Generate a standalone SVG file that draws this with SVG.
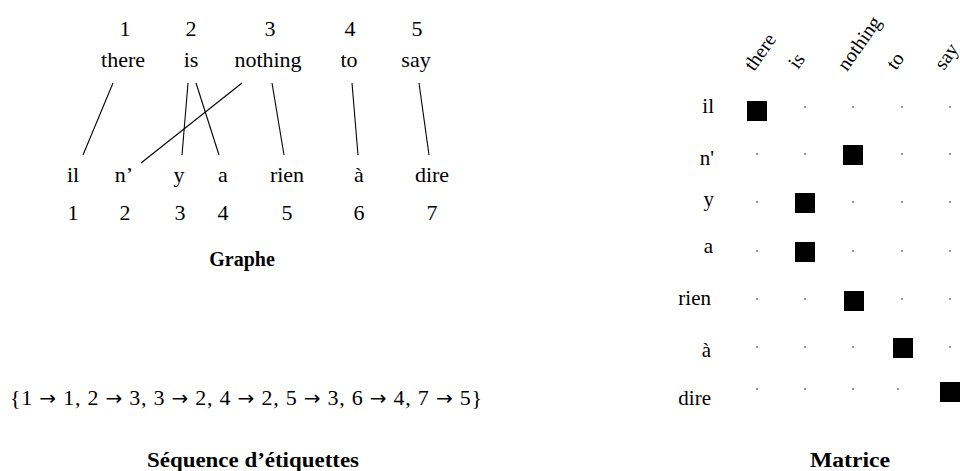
<svg xmlns="http://www.w3.org/2000/svg" width="960" height="471" viewBox="0 0 960 471">
<style>
  text { font-family: "Liberation Serif", "DejaVu Serif", serif; fill: #000; }
  .w { font-size: 22px; text-anchor: middle; }
  .t { font-size: 20px; font-weight: bold; text-anchor: middle; }
  .rl { font-size: 21px; text-anchor: end; }
  .cl { font-size: 20px; }
  .ar { font-family: "DejaVu Sans", sans-serif; font-size: 20px; }
  .ln { stroke: #000; stroke-width: 1.1; fill: none; }
  .sq { fill: #000; }
  .dt { fill: #666; }
</style>
<rect width="960" height="471" fill="#fff"/>

<!-- Graphe -->
<g id="src-there"><text class="w" x="125" y="36">1</text><text class="w" x="123" y="67">there</text></g>
<g id="src-is"><text class="w" x="191" y="36">2</text><text class="w" x="191" y="67">is</text></g>
<g id="src-nothing"><text class="w" x="270" y="36">3</text><text class="w" x="268" y="67">nothing</text></g>
<g id="src-to"><text class="w" x="350" y="36">4</text><text class="w" x="349" y="67">to</text></g>
<g id="src-say"><text class="w" x="417" y="36">5</text><text class="w" x="416" y="67">say</text></g>

<g id="tgt-il"><text class="w" x="73" y="182">il</text><text class="w" x="73" y="220">1</text></g>
<g id="tgt-n"><text class="w" x="124" y="182">n’</text><text class="w" x="125" y="220">2</text></g>
<g id="tgt-y"><text class="w" x="179" y="182">y</text><text class="w" x="180" y="220">3</text></g>
<g id="tgt-a"><text class="w" x="223" y="182">a</text><text class="w" x="223" y="220">4</text></g>
<g id="tgt-rien"><text class="w" x="287" y="182">rien</text><text class="w" x="287" y="220">5</text></g>
<g id="tgt-a2"><text class="w" x="359" y="182">à</text><text class="w" x="359" y="220">6</text></g>
<g id="tgt-dire"><text class="w" x="432" y="182">dire</text><text class="w" x="432" y="220">7</text></g>

<g id="connectors">
  <line class="ln" x1="113" y1="83" x2="83" y2="155"/>
  <line class="ln" x1="188" y1="83" x2="182" y2="155"/>
  <line class="ln" x1="196" y1="83" x2="219" y2="155"/>
  <line class="ln" x1="242" y1="83" x2="141" y2="163"/>
  <line class="ln" x1="272" y1="83" x2="284" y2="155"/>
  <line class="ln" x1="352" y1="83" x2="358" y2="155"/>
  <line class="ln" x1="419" y1="83" x2="429" y2="155"/>
</g>

<text class="t" x="242" y="266">Graphe</text>

<!-- Séquence -->
<g id="sequence">
  <text x="10" y="405" font-size="22" textLength="472" lengthAdjust="spacing">{1 <tspan class="ar">→</tspan> 1, 2 <tspan class="ar">→</tspan> 3, 3 <tspan class="ar">→</tspan> 2, 4 <tspan class="ar">→</tspan> 2, 5 <tspan class="ar">→</tspan> 3, 6 <tspan class="ar">→</tspan> 4, 7 <tspan class="ar">→</tspan> 5}</text>
</g>
<text class="t" x="253" y="467" textLength="212" lengthAdjust="spacingAndGlyphs">Séquence d’étiquettes</text>

<!-- Matrice -->
<g id="matrix-cols">
  <text class="cl" transform="translate(754,72) rotate(-55)">there</text>
  <text class="cl" transform="translate(798,70) rotate(-55)">is</text>
  <text class="cl" transform="translate(847,72) rotate(-55)">nothing</text>
  <text class="cl" transform="translate(896,71) rotate(-55)">to</text>
  <text class="cl" transform="translate(944,71) rotate(-55)">say</text>
</g>
<g id="matrix-rows">
  <text class="rl" x="714" y="113">il</text>
  <text class="rl" x="714" y="165">n'</text>
  <text class="rl" x="714" y="206">y</text>
  <text class="rl" x="713" y="253">a</text>
  <text class="rl" x="711" y="305">rien</text>
  <text class="rl" x="711" y="357">à</text>
  <text class="rl" x="711" y="405">dire</text>
</g>
<g id="matrix-cells">
  <rect class="sq" x="747" y="101" width="20" height="20"/>
  <rect class="sq" x="843" y="145" width="20" height="20"/>
  <rect class="sq" x="795" y="193" width="20" height="20"/>
  <rect class="sq" x="795" y="242" width="20" height="20"/>
  <rect class="sq" x="844" y="291" width="20" height="20"/>
  <rect class="sq" x="893" y="338" width="20" height="20"/>
  <rect class="sq" x="940" y="382" width="20" height="20"/>
  <circle class="dt" cx="805" cy="107" r="0.9"/><circle class="dt" cx="853" cy="107" r="0.9"/><circle class="dt" cx="902" cy="107" r="0.9"/><circle class="dt" cx="950" cy="107" r="0.9"/>
  <circle class="dt" cx="757" cy="154" r="0.9"/><circle class="dt" cx="805" cy="154" r="0.9"/><circle class="dt" cx="902" cy="154" r="0.9"/><circle class="dt" cx="950" cy="154" r="0.9"/>
  <circle class="dt" cx="757" cy="202" r="0.9"/><circle class="dt" cx="853" cy="202" r="0.9"/><circle class="dt" cx="902" cy="202" r="0.9"/><circle class="dt" cx="950" cy="202" r="0.9"/>
  <circle class="dt" cx="757" cy="251" r="0.9"/><circle class="dt" cx="853" cy="251" r="0.9"/><circle class="dt" cx="902" cy="251" r="0.9"/><circle class="dt" cx="950" cy="251" r="0.9"/>
  <circle class="dt" cx="757" cy="299" r="0.9"/><circle class="dt" cx="805" cy="299" r="0.9"/><circle class="dt" cx="902" cy="299" r="0.9"/><circle class="dt" cx="950" cy="299" r="0.9"/>
  <circle class="dt" cx="757" cy="347" r="0.9"/><circle class="dt" cx="805" cy="347" r="0.9"/><circle class="dt" cx="853" cy="347" r="0.9"/><circle class="dt" cx="950" cy="347" r="0.9"/>
  <circle class="dt" cx="757" cy="389" r="0.9"/><circle class="dt" cx="805" cy="389" r="0.9"/><circle class="dt" cx="853" cy="389" r="0.9"/><circle class="dt" cx="898" cy="389" r="0.9"/>
</g>
<text class="t" x="850" y="467" textLength="80" lengthAdjust="spacingAndGlyphs">Matrice</text>
</svg>
